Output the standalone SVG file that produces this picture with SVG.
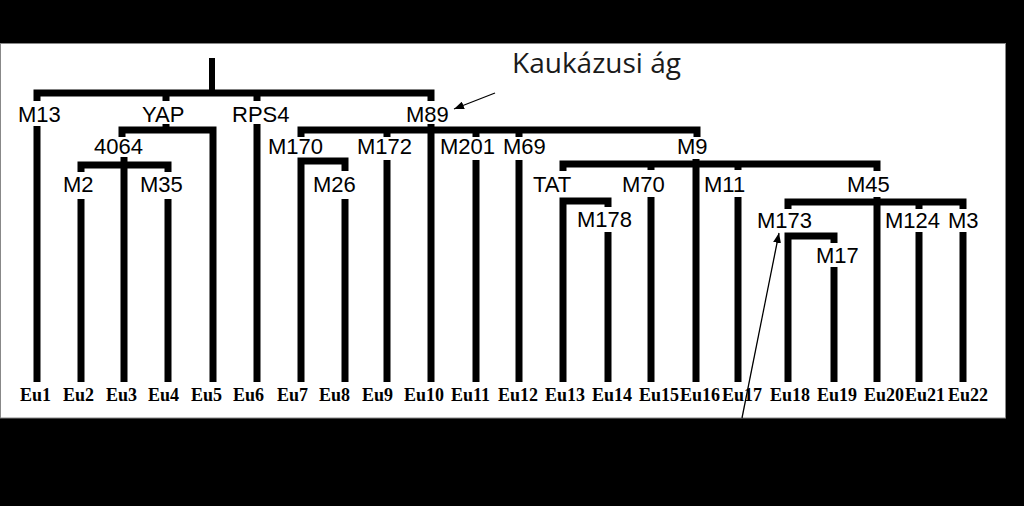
<svg xmlns="http://www.w3.org/2000/svg" width="1024" height="506" viewBox="0 0 1024 506">
<style>
.ln{fill:none;stroke:#000;stroke-width:7;stroke-linejoin:miter;stroke-linecap:butt}
.ar{fill:none;stroke:#000;stroke-width:1.3}
.lb{font-family:"Liberation Sans",Arial,sans-serif;font-size:22px;fill:#000}
.eu{font-family:"Liberation Serif","Times New Roman",serif;font-size:18px;font-weight:bold;fill:#000}
.tt{font-family:"Open Sans","Noto Sans",sans-serif;font-size:28px;fill:#1a1a1a}
</style>
<defs>
<marker id="ah" viewBox="0 0 10 8" refX="10" refY="4" markerWidth="10" markerHeight="8" markerUnits="userSpaceOnUse" orient="auto">
<path d="M0,0 L10,4 L0,8 z" fill="#000"/>
</marker>
</defs>
<rect x="0" y="0" width="1024" height="506" fill="#000"/>
<rect x="0.5" y="43.5" width="1005" height="374.5" fill="#fff" stroke="#888" stroke-width="1"/>

<g id="connectors">
<path class="ln" style="stroke-width:6" d="M212,58 V93"/>
<path class="ln" d="M37,101 V93 H431 V101"/>
<path class="ln" d="M166,93 V101 M257,93 V101"/>
<path class="ln" d="M37,126 V382"/>
<path class="ln" d="M166,124 V130"/>
<path class="ln" d="M122,137 V130 H213 V382"/>
<path class="ln" d="M124,157 V382"/>
<path class="ln" d="M81,172 V165 H168 V172"/>
<path class="ln" d="M81,199 V382 M168,199 V382"/>
<path class="ln" d="M257,124 V382"/>
<path class="ln" d="M431,124 V382"/>
<path class="ln" d="M301,137 V130 H697 V137"/>
<path class="ln" d="M387,130 V137 M476,130 V137 M519,130 V137"/>
<path class="ln" d="M301,382 V161 H345 V171"/>
<path class="ln" d="M345,199 V382"/>
<path class="ln" d="M387,160 V382 M476,160 V382 M519,160 V382"/>
<path class="ln" d="M696,159 V382"/>
<path class="ln" d="M563,171 V164 H877 V171"/>
<path class="ln" d="M651,164 V170 M738,164 V170"/>
<path class="ln" d="M563,382 V201 H608 V207"/>
<path class="ln" d="M608,232 V382"/>
<path class="ln" d="M651,197 V382 M738,197 V382"/>
<path class="ln" d="M877,197 V382"/>
<path class="ln" d="M788,209 V202 H963 V209"/>
<path class="ln" d="M919,202 V209"/>
<path class="ln" d="M788,382 V236 H834 V243"/>
<path class="ln" d="M834,267 V382"/>
<path class="ln" d="M919,232 V382 M963,232 V382"/>
<line class="ar" x1="495" y1="93" x2="454" y2="109" marker-end="url(#ah)"/>
<line class="ar" x1="742" y1="418" x2="779" y2="233" marker-end="url(#ah)"/>
</g>

<g id="title"><text class="tt" x="512" y="73">Kaukázusi ág</text></g>

<g id="n-M13"><text class="lb" x="18" y="122">M13</text></g>
<g id="n-YAP"><text class="lb" x="142" y="122">YAP</text></g>
<g id="n-RPS4"><text class="lb" x="232" y="122">RPS4</text></g>
<g id="n-M89"><text class="lb" x="406" y="122">M89</text></g>
<g id="n-4064"><text class="lb" x="94" y="154">4064</text></g>
<g id="n-M2"><text class="lb" x="63" y="192">M2</text></g>
<g id="n-M35"><text class="lb" x="140" y="192">M35</text></g>
<g id="n-M170"><text class="lb" x="268" y="154">M170</text></g>
<g id="n-M26"><text class="lb" x="313" y="192">M26</text></g>
<g id="n-M172"><text class="lb" x="357" y="154">M172</text></g>
<g id="n-M201"><text class="lb" x="440" y="154">M201</text></g>
<g id="n-M69"><text class="lb" x="503" y="154">M69</text></g>
<g id="n-M9"><text class="lb" x="677" y="154">M9</text></g>
<g id="n-TAT"><text class="lb" x="533" y="192">TAT</text></g>
<g id="n-M70"><text class="lb" x="622" y="192">M70</text></g>
<g id="n-M11"><text class="lb" x="704" y="192">M11</text></g>
<g id="n-M45"><text class="lb" x="847" y="192">M45</text></g>
<g id="n-M178"><text class="lb" x="577" y="227">M178</text></g>
<g id="n-M173"><text class="lb" x="757" y="228">M173</text></g>
<g id="n-M124"><text class="lb" x="885" y="228">M124</text></g>
<g id="n-M3"><text class="lb" x="948" y="228">M3</text></g>
<g id="n-M17"><text class="lb" x="816" y="263">M17</text></g>

<g id="leaves">
<text class="eu" x="20" y="401">Eu1</text>
<text class="eu" x="63" y="401">Eu2</text>
<text class="eu" x="106" y="401">Eu3</text>
<text class="eu" x="148" y="401">Eu4</text>
<text class="eu" x="191" y="401">Eu5</text>
<text class="eu" x="233" y="401">Eu6</text>
<text class="eu" x="277" y="401">Eu7</text>
<text class="eu" x="319" y="401">Eu8</text>
<text class="eu" x="362" y="401">Eu9</text>
<text class="eu" x="404" y="401">Eu10</text>
<text class="eu" x="451" y="401">Eu11</text>
<text class="eu" x="498" y="401">Eu12</text>
<text class="eu" x="545" y="401">Eu13</text>
<text class="eu" x="592" y="401">Eu14</text>
<text class="eu" x="639" y="401">Eu15</text>
<text class="eu" x="680" y="401">Eu16</text>
<text class="eu" x="722" y="401">Eu17</text>
<text class="eu" x="770" y="401">Eu18</text>
<text class="eu" x="817" y="401">Eu19</text>
<text class="eu" x="864" y="401">Eu20</text>
<text class="eu" x="905" y="401">Eu21</text>
<text class="eu" x="948" y="401">Eu22</text>
</g>
</svg>
